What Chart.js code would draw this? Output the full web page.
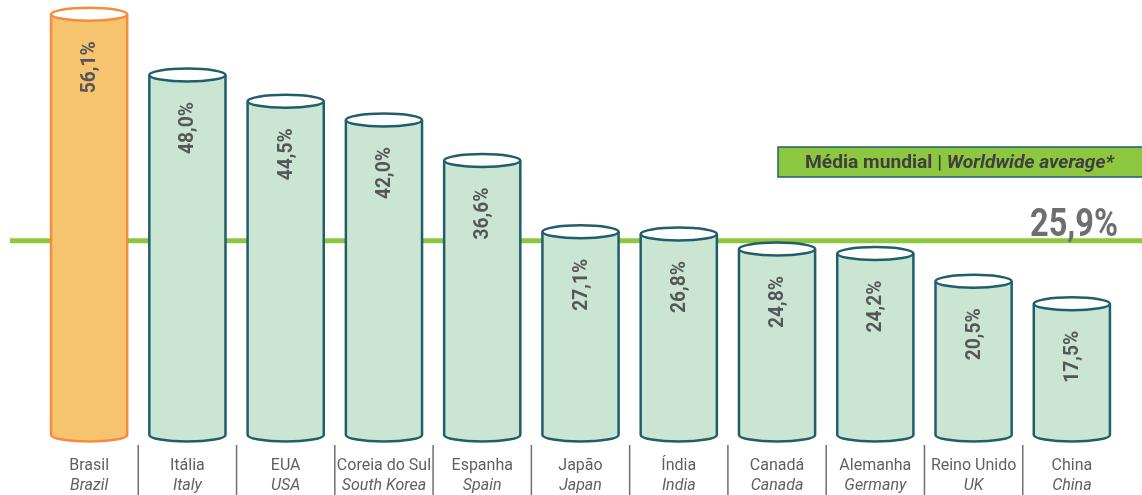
<!DOCTYPE html>
<html>
<head>
<meta charset="utf-8">
<script src="https://cdn.jsdelivr.net/npm/chart.js@4/dist/chart.umd.min.js"></script>
<style>
  html, body { margin: 0; padding: 0; background: #ffffff; }
  #wrap { width: 1142px; height: 495px; position: relative; }
</style>
</head>
<body>
<div id="wrap"><canvas id="c"></canvas></div>
<script>
const categoriesPt = ['Brasil', 'Itália', 'EUA', 'Coreia do Sul', 'Espanha', 'Japão', 'Índia', 'Canadá', 'Alemanha', 'Reino Unido', 'China'];
const categoriesEn = ['Brazil', 'Italy', 'USA', 'South Korea', 'Spain', 'Japan', 'India', 'Canada', 'Germany', 'UK', 'China'];
const values = [56.1, 48.0, 44.5, 42.0, 36.6, 27.1, 26.8, 24.8, 24.2, 20.5, 17.5];
const worldwideAverage = 25.9;
const averageLabelPt = 'Média mundial | ';
const averageLabelEn = 'Worldwide average*';

const fillColors = values.map((v, i) => i === 0 ? '#F6C36E' : '#CAE6D2');
const strokeColors = values.map((v, i) => i === 0 ? '#F68B3F' : '#215E6C');

function fmt(v) { return v.toFixed(1).replace('.', ',') + '%'; }

const cylinderPlugin = {
  id: 'cylinders',
  beforeDatasetsDraw(chart) {
    const ctx = chart.ctx;
    const y = chart.scales.y.getPixelForValue(worldwideAverage);
    ctx.save();
    ctx.strokeStyle = '#8DC63F';
    ctx.lineWidth = 5;
    ctx.beginPath();
    ctx.moveTo(10, y);
    ctx.lineTo(chart.width, y);
    ctx.stroke();
    ctx.restore();
  },
  afterDatasetsDraw(chart) {
    const ctx = chart.ctx;
    const meta = chart.getDatasetMeta(0);
    const ry = 6.5;
    ctx.save();
    meta.data.forEach((bar, i) => {
      const p = bar.getProps(['x', 'y', 'base', 'width'], true);
      const rx = p.width / 2;
      const l = p.x - rx, r = p.x + rx;
      ctx.lineWidth = 2.5;
      ctx.strokeStyle = strokeColors[i];
      ctx.fillStyle = fillColors[i];
      ctx.beginPath();
      ctx.moveTo(l, p.y);
      ctx.lineTo(l, p.base);
      ctx.ellipse(p.x, p.base, rx, ry, 0, Math.PI, 0, true);
      ctx.lineTo(r, p.y);
      ctx.fill();
      ctx.stroke();
      ctx.beginPath();
      ctx.ellipse(p.x, p.y, rx, ry, 0, 0, Math.PI * 2);
      ctx.fillStyle = '#ffffff';
      ctx.fill();
      ctx.stroke();
      ctx.save();
      ctx.translate(p.x, p.y + 27);
      ctx.rotate(-Math.PI / 2);
      ctx.fillStyle = '#555658';
      ctx.font = 'bold 20px Roboto';
      const w = ctx.measureText(fmt(values[i])).width;
      ctx.scale(52 / w, 1);
      ctx.textAlign = 'right';
      ctx.textBaseline = 'middle';
      ctx.fillText(fmt(values[i]), 0, 1);
      ctx.restore();
    });

    const xs = chart.scales.x;
    ctx.fillStyle = '#5F6062';
    ctx.textAlign = 'center';
    ctx.textBaseline = 'middle';
    categoriesPt.forEach((c, i) => {
      const x = xs.getPixelForValue(i);
      ctx.font = '16px Roboto';
      ctx.fillText(c, x, 466);
      ctx.font = 'italic 16px Roboto';
      ctx.fillText(categoriesEn[i], x, 486);
      if (i > 0) {
        const xm = (xs.getPixelForValue(i - 1) + x) / 2;
        ctx.strokeStyle = '#6D6E70';
        ctx.lineWidth = 1.5;
        ctx.beginPath();
        ctx.moveTo(xm, 445);
        ctx.lineTo(xm, 495);
        ctx.stroke();
      }
    });

    ctx.fillStyle = '#8DC63F';
    ctx.fillRect(778, 147, 370, 30);
    ctx.strokeStyle = '#215E6C';
    ctx.lineWidth = 1.5;
    ctx.strokeRect(778, 147, 370, 30);
    ctx.font = 'bold 18px Roboto';
    const w1 = ctx.measureText(averageLabelPt).width;
    ctx.font = 'italic bold 18px Roboto';
    const w2 = ctx.measureText(averageLabelEn).width;
    const sx = 309 / (w1 + w2);
    ctx.save();
    ctx.translate(805, 163);
    ctx.scale(sx, 1);
    ctx.fillStyle = '#3F3F41';
    ctx.textAlign = 'left';
    ctx.textBaseline = 'middle';
    ctx.font = 'bold 18px Roboto';
    ctx.fillText(averageLabelPt, 0, 0);
    ctx.font = 'italic bold 18px Roboto';
    ctx.fillText(averageLabelEn, w1, 0);
    ctx.restore();

    ctx.save();
    ctx.font = 'bold 38px Roboto';
    const txt = fmt(worldwideAverage);
    const tw = ctx.measureText(txt).width;
    ctx.translate(1118, 236);
    ctx.scale(88 / tw, 1);
    ctx.fillStyle = '#6D6E70';
    ctx.textAlign = 'right';
    ctx.textBaseline = 'alphabetic';
    ctx.fillText(txt, 0, 0);
    ctx.restore();

    ctx.restore();
  }
};

new Chart(document.getElementById('c'), {
  type: 'bar',
  data: {
    labels: categoriesPt,
    datasets: [{
      data: values,
      backgroundColor: fillColors,
      borderWidth: 0,
      categoryPercentage: 1,
      barPercentage: 0.775
    }]
  },
  options: {
    responsive: true,
    maintainAspectRatio: false,
    animation: false,
    layout: { padding: { left: 40, right: 21, top: 0, bottom: 60 } },
    plugins: { legend: { display: false }, tooltip: { enabled: false } },
    scales: {
      x: { display: false, offset: true },
      y: { display: false, min: 0, max: 58 }
    }
  },
  plugins: [cylinderPlugin]
});
</script>
</body>
</html>
